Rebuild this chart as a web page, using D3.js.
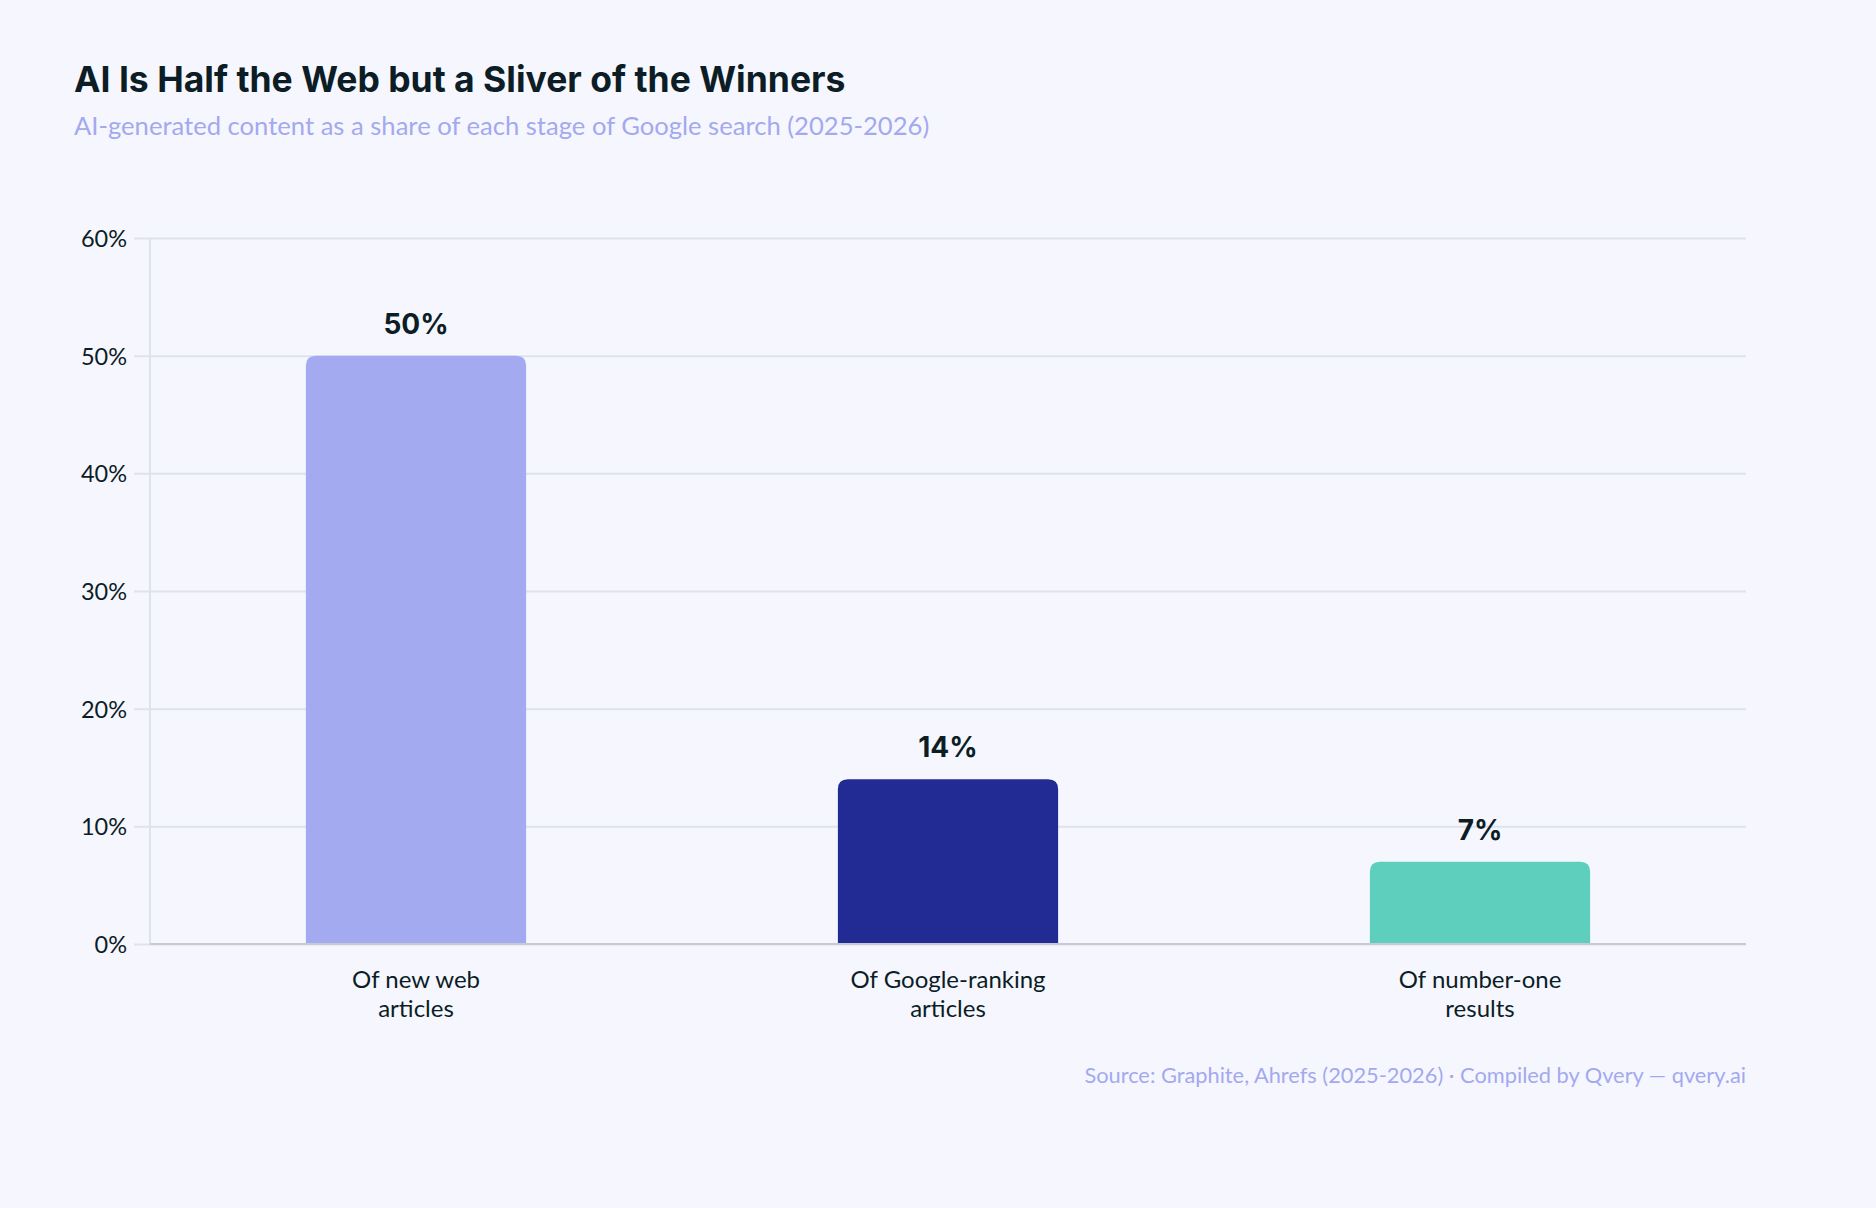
<!DOCTYPE html>
<html>
<head>
<meta charset="utf-8">
<script src="https://cdn.jsdelivr.net/npm/d3@7"></script>
<style>
  html, body { margin: 0; padding: 0; background: #f6f7fe; }
  svg { display: block; }
</style>
</head>
<body>
<svg></svg>
<script>
const categories = ['Of new web articles', 'Of Google-ranking articles', 'Of number-one results'];
const labelLines = [['Of new web', 'articles'], ['Of Google-ranking', 'articles'], ['Of number-one', 'results']];
const values = [50, 14, 7];
const barColors = ['#a3aaf0', '#222a94', '#5ecfbd'];
const yTicks = [0, 10, 20, 30, 40, 50, 60];

const WIDTH = 1876;
const HEIGHT = 1208;
const margin = {top: 238, right: 130, bottom: 264, left: 150};
const innerW = WIDTH - margin.left - margin.right;
const innerH = HEIGHT - margin.top - margin.bottom;

const svg = d3.select('svg')
    .attr('width', WIDTH)
    .attr('height', HEIGHT);

svg.append('rect')
    .attr('width', WIDTH)
    .attr('height', HEIGHT)
    .attr('fill', '#f6f7fe');

// titles
svg.append('text')
    .attr('x', 74)
    .attr('y', 92)
    .attr('font-family', 'Inter, sans-serif')
    .attr('font-weight', 700)
    .attr('font-size', 35.5)
    .attr('fill', '#0c1d26')
    .text('AI Is Half the Web but a Sliver of the Winners');

svg.append('text')
    .attr('x', 74)
    .attr('y', 135)
    .attr('font-family', 'Lato, sans-serif')
    .attr('font-size', 25.6)
    .attr('fill', '#a3a9ef')
    .text('AI-generated content as a share of each stage of Google search (2025-2026)');

const g = svg.append('g')
    .attr('transform', `translate(${margin.left}, ${margin.top})`);

const x = d3.scaleBand()
    .domain(categories)
    .range([0, innerW])
    .paddingInner(0.586)
    .paddingOuter(0.293);

const y = d3.scaleLinear()
    .domain([0, 60])
    .range([innerH, 0]);

// y axis with gridlines
const yAxis = g.append('g')
    .call(d3.axisLeft(y)
        .tickValues(yTicks)
        .tickSize(-innerW)
        .tickFormat((d) => d + '%'));
yAxis.select('.domain').remove();
yAxis.selectAll('.tick line')
    .attr('x1', -16)
    .attr('stroke', '#dde3ee')
    .attr('stroke-width', 2);
yAxis.selectAll('.tick text')
    .attr('x', -23)
    .attr('dy', '0.36em')
    .attr('font-family', 'Lato, sans-serif')
    .attr('font-size', 23.5)
    .attr('fill', '#0c1d26');

// vertical axis line
g.append('line')
    .attr('x1', 0).attr('x2', 0)
    .attr('y1', 0).attr('y2', innerH)
    .attr('stroke', '#dde3ee')
    .attr('stroke-width', 2);

// bars, rounded on top only
const r = 10;
function barPath(d, i) {
  const x0 = x(categories[i]);
  const x1 = x0 + x.bandwidth();
  const y0 = y(0);
  const y1 = y(d);
  return `M${x0},${y0}V${y1 + r}Q${x0},${y1} ${x0 + r},${y1}H${x1 - r}Q${x1},${y1} ${x1},${y1 + r}V${y0}Z`;
}

g.selectAll('path.bar')
    .data(values)
    .enter().append('path')
    .attr('class', 'bar')
    .attr('d', barPath)
    .attr('fill', (d, i) => barColors[i]);

// value labels
g.selectAll('text.value')
    .data(values)
    .enter().append('text')
    .attr('class', 'value')
    .attr('x', (d, i) => x(categories[i]) + x.bandwidth() / 2)
    .attr('y', (d) => y(d) - 22)
    .attr('text-anchor', 'middle')
    .attr('font-family', 'Inter, sans-serif')
    .attr('font-weight', 700)
    .attr('font-size', 28)
    .attr('fill', '#0c1d26')
    .text((d) => d + '%');

// baseline
g.append('line')
    .attr('x1', 0).attr('x2', innerW)
    .attr('y1', y(0)).attr('y2', y(0))
    .attr('stroke', '#c5cad4')
    .attr('stroke-width', 2);

// category labels
const catLabels = g.selectAll('text.cat')
    .data(labelLines)
    .enter().append('text')
    .attr('class', 'cat')
    .attr('text-anchor', 'middle')
    .attr('font-family', 'Lato, sans-serif')
    .attr('font-size', 24)
    .attr('fill', '#0c1d26')
    .attr('transform', (d, i) => `translate(${x(categories[i]) + x.bandwidth() / 2}, ${innerH + 44})`);
catLabels.selectAll('tspan')
    .data((d) => d)
    .enter().append('tspan')
    .attr('x', 0)
    .attr('y', (d, i) => i * 29)
    .text((d) => d);

// source
svg.append('text')
    .attr('x', margin.left + innerW)
    .attr('y', 1083)
    .attr('text-anchor', 'end')
    .attr('font-family', 'Lato, sans-serif')
    .attr('font-size', 21.8)
    .attr('fill', '#a3a9ef')
    .text('Source: Graphite, Ahrefs (2025-2026) · Compiled by Qvery — qvery.ai');
</script>
</body>
</html>
